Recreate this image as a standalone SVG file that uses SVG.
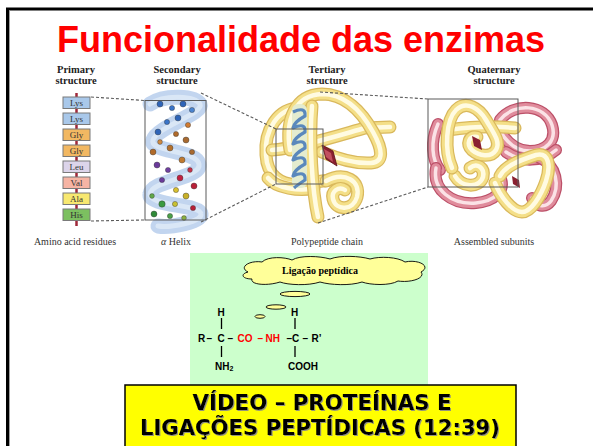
<svg xmlns="http://www.w3.org/2000/svg" xmlns:xlink="http://www.w3.org/1999/xlink" width="593" height="446" viewBox="0 0 593 446">
  <defs>
    <style>
      .hdr { font-family: "Liberation Serif", "DejaVu Serif", serif; font-weight: bold; font-size: 10.5px; fill: #222; text-anchor: middle; }
      .cap { font-family: "Liberation Serif", "DejaVu Serif", serif; font-size: 10px; fill: #333; text-anchor: middle; }
      .res { font-family: "Liberation Serif", "DejaVu Serif", serif; font-size: 9px; fill: #333; text-anchor: middle; }
      .resbox { stroke: #7a7a7a; stroke-width: 1; }
      .frame { fill: none; stroke: #5a5a5a; stroke-width: 1; }
      .dash { fill: none; stroke: #5a5a5a; stroke-width: 1.1; stroke-dasharray: 3 2; }
      .y-o { fill: none; stroke: #d9b85c; stroke-width: 13; stroke-linecap: round; stroke-linejoin: round; }
      .y-f { fill: none; stroke: #f4df88; stroke-width: 10.5; stroke-linecap: round; stroke-linejoin: round; }
      .y-h { fill: none; stroke: #fffbe2; stroke-width: 4.5; stroke-linecap: round; stroke-linejoin: round; }
      .p-o { fill: none; stroke: #bc5068; stroke-width: 12; stroke-linecap: round; stroke-linejoin: round; }
      .p-f { fill: none; stroke: #e08c9c; stroke-width: 9.5; stroke-linecap: round; stroke-linejoin: round; }
      .p-h { fill: none; stroke: #fbe2e6; stroke-width: 3.5; stroke-linecap: round; stroke-linejoin: round; }
      .chem { font-family: "Liberation Sans", Arial, sans-serif; font-weight: bold; font-size: 10px; fill: #000; }
      .red { fill: #ff0000; }
      .bond { stroke: #000; stroke-width: 1.3; }
      .bubble { fill: #ffff99; stroke: #000; stroke-width: 0.9; }
      .banner { font-family: "DejaVu Sans", Verdana, sans-serif; font-weight: bold; font-size: 21px; fill: #000; text-anchor: middle; }
    </style>
    <filter id="txtShadow" x="-5%" y="-20%" width="110%" height="140%">
      <feDropShadow dx="1" dy="1" stdDeviation="0.3" flood-color="#888" flood-opacity="0.9"/>
    </filter>

    <!-- tertiary structure tubes -->
    <path id="t3" d="M300,108 C278,108 264,130 266,155 C267,175 280,186 300,184 L330,180"/>
    <path id="t2" d="M272,150 C300,148 340,135 365,128 L390,127"/>
    <path id="t1" d="M290,150 C285,120 295,95 322,94 C345,94 362,112 373,132 C383,150 384,162 371,163 C354,164 336,158 322,152"/>
    <path id="t6" d="M268,178 C276,188 300,192 314,188"/>
    <path id="t4" d="M312,106 C309,140 312,190 318,217"/>
    <path id="t5" d="M326,181 C345,171 361,181 357,197 C353,211 336,211 333,199 C331,191 339,186 345,190"/>

    <!-- quaternary structure tubes -->
    <path id="k1" d="M500,120 C514,102 545,104 552,125 C557,141 546,151 530,151 C515,151 506,141 500,131"/>
    <path id="k2" d="M436,168 C432,190 452,205 476,203 C495,201 505,191 501,179"/>
    <path id="k3" d="M540,158 C556,165 561,186 551,201 C545,209 535,206 532,198"/>
    <path id="k4" d="M438,124 C430,142 432,160 440,170"/>
    <path id="k5" d="M506,152 C522,163 542,162 556,150"/>
    <path id="q2" d="M448,130 C470,127 495,126 515,128"/>
    <path id="q1" d="M452,168 C444,150 446,120 456,110 C466,100 479,108 486,120 C493,132 501,142 496,150 C491,158 479,156 472,150 C466,144 469,135 477,137"/>
    <path id="q4" d="M455,176 C461,187 479,189 483,177 C485,168 477,162 470,168"/>
    <path id="q3" d="M500,176 C506,165 521,160 536,155 C549,152 551,166 546,181 C541,196 531,212 522,212 C512,212 500,196 495,183"/>
  </defs>

  <!-- slide frame -->
  <rect x="7.5" y="9" width="600" height="450" fill="#ffffff" stroke="#000" stroke-width="3"/>
  <line x1="9.5" y1="10.5" x2="9.5" y2="446" stroke="#a0a0a0" stroke-width="1"/>

  <g id="title">
    <text x="57" y="52" font-family="Liberation Sans, Arial, sans-serif" font-weight="bold" font-size="36" fill="#ff0000" textLength="488" lengthAdjust="spacingAndGlyphs">Funcionalidade das enzimas</text>
  </g>

  <!-- primary structure: residue chain -->
  <g id="primary">
    <text class="hdr" x="76" y="73">Primary</text>
    <text class="hdr" x="76" y="84">structure</text>
    <line x1="76.5" y1="93" x2="76.5" y2="226" stroke="#a0283a" stroke-width="2.5"/>
    <rect class="resbox" x="63" y="97" width="27" height="11.5" fill="#a9c8ea"/>
    <rect class="resbox" x="63" y="113" width="27" height="11.5" fill="#a9c8ea"/>
    <rect class="resbox" x="63" y="129" width="27" height="11.5" fill="#f2b862"/>
    <rect class="resbox" x="63" y="145" width="27" height="11.5" fill="#f2b862"/>
    <rect class="resbox" x="63" y="161" width="27" height="11.5" fill="#dcd4ea"/>
    <rect class="resbox" x="63" y="177" width="27" height="11.5" fill="#f6b4a4"/>
    <rect class="resbox" x="63" y="193" width="27" height="11.5" fill="#f8e870"/>
    <rect class="resbox" x="63" y="209" width="27" height="11.5" fill="#7cc060"/>
    <text class="res" x="76.5" y="106">Lys</text>
    <text class="res" x="76.5" y="122">Lys</text>
    <text class="res" x="76.5" y="138">Gly</text>
    <text class="res" x="76.5" y="154">Gly</text>
    <text class="res" x="76.5" y="170">Leu</text>
    <text class="res" x="76.5" y="186">Val</text>
    <text class="res" x="76.5" y="202">Ala</text>
    <text class="res" x="76.5" y="218">His</text>
    <text class="cap" x="75" y="245">Amino acid residues</text>
  </g>

  <!-- secondary structure: alpha helix -->
  <g id="secondary">
    <text class="hdr" x="177" y="73">Secondary</text>
    <text class="hdr" x="177" y="84">structure</text>
    <path d="M150,104 C165,94 195,96 200,104 C204,114 158,126 153,140 C149,152 196,150 199,164 C202,178 152,180 150,194 C148,206 200,204 201,214 C202,222 170,228 158,226" fill="none" stroke="#8fb2e2" stroke-opacity="0.55" stroke-width="15" stroke-linecap="round"/>
    <path d="M150,104 C165,94 195,96 200,104 C204,114 158,126 153,140 C149,152 196,150 199,164 C202,178 152,180 150,194 C148,206 200,204 201,214 C202,222 170,228 158,226" fill="none" stroke="#e2ecf8" stroke-opacity="0.75" stroke-width="5" stroke-linecap="round"/>
    <g stroke="#333" stroke-width="0.4">
      <circle cx="160" cy="104" r="3" fill="#2e64b8"/>
      <circle cx="172" cy="108" r="2.6" fill="#3a74c8"/>
      <circle cx="183" cy="104" r="3" fill="#2e64b8"/>
      <circle cx="192" cy="110" r="2.6" fill="#4a84d0"/>
      <circle cx="178" cy="118" r="3" fill="#2e64b8"/>
      <circle cx="167" cy="122" r="2.6" fill="#3a74c8"/>
      <circle cx="188" cy="125" r="2.6" fill="#d07a30"/>
      <circle cx="158" cy="132" r="3" fill="#2e64b8"/>
      <circle cx="176" cy="134" r="2.6" fill="#b06a2a"/>
      <circle cx="160" cy="142" r="2.4" fill="#d08a40"/>
      <circle cx="186" cy="140" r="3" fill="#a86a30"/>
      <circle cx="170" cy="148" r="3" fill="#b4702c"/>
      <circle cx="153" cy="152" r="3" fill="#b06a2a"/>
      <circle cx="192" cy="152" r="2.6" fill="#a86a30"/>
      <circle cx="182" cy="160" r="3" fill="#c07a30"/>
      <circle cx="157" cy="165" r="3" fill="#6a3a9a"/>
      <circle cx="168" cy="170" r="2.6" fill="#7040a0"/>
      <circle cx="190" cy="170" r="2.4" fill="#c83048"/>
      <circle cx="180" cy="178" r="3" fill="#c02040"/>
      <circle cx="162" cy="180" r="2.6" fill="#6a3a9a"/>
      <circle cx="194" cy="186" r="3" fill="#b82038"/>
      <circle cx="176" cy="190" r="2.6" fill="#d8c030"/>
      <circle cx="186" cy="196" r="3" fill="#c8b028"/>
      <circle cx="152" cy="196" r="2.4" fill="#60a848"/>
      <circle cx="162" cy="204" r="3.2" fill="#3a9a40"/>
      <circle cx="175" cy="204" r="2.6" fill="#c8c030"/>
      <circle cx="193" cy="208" r="2.6" fill="#b82038"/>
      <circle cx="154" cy="214" r="3" fill="#2f8a38"/>
      <circle cx="170" cy="216" r="2.6" fill="#4aa048"/>
      <circle cx="184" cy="218" r="2.4" fill="#8ab040"/>
    </g>
    <rect class="frame" x="145" y="100.5" width="61" height="119.5"/>
    <text class="cap" x="176" y="245"><tspan font-style="italic">α</tspan> Helix</text>
  </g>

  <!-- tertiary structure: folded polypeptide chain -->
  <g id="tertiary">
    <text class="hdr" x="327" y="73">Tertiary</text>
    <text class="hdr" x="327" y="84">structure</text>
    <use href="#t3" class="y-o"/><use href="#t3" class="y-f"/><use href="#t3" class="y-h"/>
    <use href="#t2" class="y-o"/><use href="#t2" class="y-f"/><use href="#t2" class="y-h"/>
    <use href="#t1" class="y-o"/><use href="#t1" class="y-f"/><use href="#t1" class="y-h"/>
    <use href="#t6" class="y-o"/><use href="#t6" class="y-f"/><use href="#t6" class="y-h"/>
    <use href="#t4" class="y-o"/><use href="#t4" class="y-f"/><use href="#t4" class="y-h"/>
    <!-- embedded helix ribbon -->
    <rect x="292" y="104" width="15" height="84" rx="6" fill="#e4eccf"/>
    <path d="M293,112 Q306,106 305,116 Q294,122 293,128 Q306,122 305,132 Q294,138 293,144 Q306,138 305,148 Q294,154 293,160 Q306,154 305,164 Q294,170 293,176 Q306,170 305,180 Q296,186 294,188" fill="none" stroke="#5a88bc" stroke-width="3.2" stroke-linejoin="round"/>
    <use href="#t5" class="y-o"/><use href="#t5" class="y-f"/><use href="#t5" class="y-h"/>
    <!-- heme group -->
    <polygon points="322,145 333,151 337,166 326,159" fill="#8a2030" stroke="#5a1018" stroke-width="0.8"/>
    <polygon points="324,149 331,153 333,162 326,157" fill="#c25060"/>
    <rect class="frame" x="276" y="129" width="47" height="55"/>
    <text class="cap" x="327" y="245">Polypeptide chain</text>
  </g>

  <!-- quaternary structure: assembled subunits -->
  <g id="quaternary">
    <text class="hdr" x="494" y="73">Quaternary</text>
    <text class="hdr" x="494" y="84">structure</text>
    <use href="#k4" class="p-o"/><use href="#k4" class="p-f"/><use href="#k4" class="p-h"/>
    <use href="#k1" class="p-o"/><use href="#k1" class="p-f"/><use href="#k1" class="p-h"/>
    <use href="#k5" class="p-o"/><use href="#k5" class="p-f"/><use href="#k5" class="p-h"/>
    <use href="#k2" class="p-o"/><use href="#k2" class="p-f"/><use href="#k2" class="p-h"/>
    <use href="#k3" class="p-o"/><use href="#k3" class="p-f"/><use href="#k3" class="p-h"/>
    <use href="#q2" class="y-o"/><use href="#q2" class="y-f"/><use href="#q2" class="y-h"/>
    <use href="#q4" class="y-o"/><use href="#q4" class="y-f"/><use href="#q4" class="y-h"/>
    <use href="#q1" class="y-o"/><use href="#q1" class="y-f"/><use href="#q1" class="y-h"/>
    <use href="#q3" class="y-o"/><use href="#q3" class="y-f"/><use href="#q3" class="y-h"/>
    <polygon points="472,136 480,140 482,150 474,146" fill="#8a2030"/>
    <polygon points="512,176 519,180 520,188 513,184" fill="#8a2030"/>
    <rect class="frame" x="428" y="99" width="90" height="88"/>
    <text class="cap" x="494" y="245">Assembled subunits</text>
  </g>

  <!-- zoom guide lines between the structure levels -->
  <g id="connectors">
    <line class="dash" x1="91" y1="97" x2="145" y2="100.5"/>
    <line class="dash" x1="91" y1="221" x2="145" y2="220"/>
    <line class="dash" x1="201" y1="93" x2="276" y2="129"/>
    <line class="dash" x1="201" y1="222" x2="276" y2="184"/>
    <line class="dash" x1="320" y1="92" x2="428" y2="99"/>
    <line class="dash" x1="318" y1="223" x2="428" y2="187"/>
  </g>

  <!-- peptide bond panel -->
  <g id="peptide-bond">
    <rect x="190" y="253" width="238" height="135" fill="#ccffcc"/>
    <path class="bubble" d="M248,272 C238,267 250,260 262,262 C268,256 285,257 292,260 C300,255 320,256 330,259 C340,255 360,256 370,259 C380,256 398,257 405,262 C418,259 432,266 421,272 C426,278 411,283 398,281 C390,286 370,285 362,282 C350,286 330,285 320,282 C308,286 288,285 280,282 C268,286 250,285 252,279 C242,279 240,274 248,272 Z"/>
    <text x="320" y="274" font-family="Liberation Serif, DejaVu Serif, serif" font-weight="bold" font-size="10" fill="#000" text-anchor="middle">Ligação peptídica</text>
    <ellipse class="bubble" cx="295" cy="294" rx="15" ry="2.6"/>
    <ellipse class="bubble" cx="276" cy="307" rx="10" ry="2.2"/>
    <ellipse class="bubble" cx="260" cy="316.5" rx="5" ry="1.8"/>

    <text class="chem" x="217.5" y="316">H</text>
    <text class="chem" x="291" y="316">H</text>
    <line class="bond" x1="221.5" y1="318" x2="221.5" y2="329"/>
    <line class="bond" x1="295" y1="318" x2="295" y2="329"/>
    <text class="chem" x="198" y="342">R</text>
    <text class="chem" x="206.5" y="342">–</text>
    <text class="chem" x="217.5" y="342">C</text>
    <text class="chem" x="227.5" y="342">–</text>
    <text class="chem red" x="237.5" y="342">CO</text>
    <text class="chem red" x="257.5" y="342">–</text>
    <text class="chem red" x="265.5" y="342">NH</text>
    <text class="chem" x="286.5" y="342">–</text>
    <text class="chem" x="292" y="342">C</text>
    <text class="chem" x="302.5" y="342">–</text>
    <text class="chem" x="311.5" y="342">R’</text>
    <line class="bond" x1="221.5" y1="346" x2="221.5" y2="357"/>
    <line class="bond" x1="295" y1="346" x2="295" y2="357"/>
    <text class="chem" x="215" y="370">NH<tspan font-size="7" dy="1">2</tspan></text>
    <text class="chem" x="288" y="370">COOH</text>
  </g>

  <!-- video banner -->
  <g id="video-banner">
    <rect x="125" y="385" width="391" height="70" fill="#ffff00" stroke="#000" stroke-width="1.5"/>
    <g filter="url(#txtShadow)">
      <text class="banner" x="322" y="410" textLength="259" lengthAdjust="spacingAndGlyphs">VÍDEO – PROTEÍNAS E</text>
      <text class="banner" x="320" y="435" textLength="360" lengthAdjust="spacingAndGlyphs">LIGAÇÕES PEPTÍDICAS (12:39)</text>
    </g>
  </g>
</svg>
